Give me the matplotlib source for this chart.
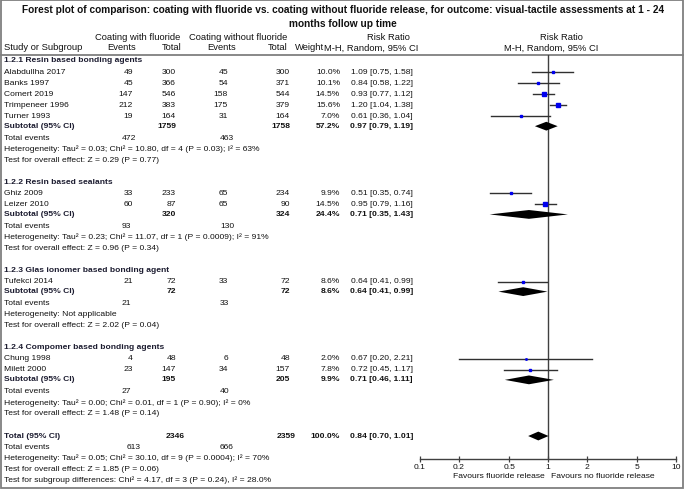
import matplotlib
matplotlib.use('Agg')
import matplotlib.pyplot as plt
from matplotlib import font_manager
from matplotlib.patches import Rectangle

# ---------------- data ----------------
title_lines = ["Forest plot of comparison: coating with fluoride vs. coating without fluoride release, for outcome: visual-tactile assessments at 1 - 24",
               "months follow up time"]

group_names = ["1.2.1 Resin based bonding agents", "1.2.2 Resin based sealants",
               "1.2.3 Glas ionomer based bonding agent", "1.2.4 Compomer based bonding agents"]

studies = ["Alabdullha 2017", "Banks 1997", "Comert 2019", "Trimpeneer 1996", "Turner 1993",
           "Ghiz 2009", "Leizer 2010", "Tufekci 2014", "Chung 1998", "Milett 2000"]
study_group = [0, 0, 0, 0, 0, 1, 1, 2, 3, 3]
events_f = [49, 45, 147, 212, 19, 33, 60, 21, 4, 23]
total_f = [300, 366, 546, 383, 164, 233, 87, 72, 48, 147]
events_n = [45, 54, 158, 175, 31, 65, 65, 33, 6, 34]
total_n = [300, 371, 544, 379, 164, 234, 90, 72, 48, 157]
weights = [10.0, 10.1, 14.5, 15.6, 7.0, 9.9, 14.5, 8.6, 2.0, 7.8]
rr = [1.09, 0.84, 0.93, 1.20, 0.61, 0.51, 0.95, 0.64, 0.67, 0.72]
rr_lo = [0.75, 0.58, 0.77, 1.04, 0.36, 0.35, 0.79, 0.41, 0.20, 0.45]
rr_hi = [1.58, 1.22, 1.12, 1.38, 1.04, 0.74, 1.16, 0.99, 2.21, 1.17]

sub_total_f = [1759, 320, 72, 195]
sub_total_n = [1758, 324, 72, 205]
sub_weight = [57.2, 24.4, 8.6, 9.9]
sub_events_f = [472, 93, 21, 27]
sub_events_n = [463, 130, 33, 40]
sub_rr = [0.97, 0.71, 0.64, 0.71]
sub_lo = [0.79, 0.35, 0.41, 0.46]
sub_hi = [1.19, 1.43, 0.99, 1.11]
sub_het = ["Heterogeneity: Tau² = 0.03; Chi² = 10.80, df = 4 (P = 0.03); I² = 63%",
           "Heterogeneity: Tau² = 0.23; Chi² = 11.07, df = 1 (P = 0.0009); I² = 91%",
           "Heterogeneity: Not applicable",
           "Heterogeneity: Tau² = 0.00; Chi² = 0.01, df = 1 (P = 0.90); I² = 0%"]
sub_test = ["Test for overall effect: Z = 0.29 (P = 0.77)",
            "Test for overall effect: Z = 0.96 (P = 0.34)",
            "Test for overall effect: Z = 2.02 (P = 0.04)",
            "Test for overall effect: Z = 1.48 (P = 0.14)"]

all_total_f = 2346
all_total_n = 2359
all_weight = 100.0
all_events_f = 613
all_events_n = 666
all_rr = 0.84
all_lo = 0.70
all_hi = 1.01
all_het = "Heterogeneity: Tau² = 0.05; Chi² = 30.10, df = 9 (P = 0.0004); I² = 70%"
all_test = "Test for overall effect: Z = 1.85 (P = 0.06)"
subgroup_test = "Test for subgroup differences: Chi² = 4.17, df = 3 (P = 0.24), I² = 28.0%"

axis_ticks = [0.1, 0.2, 0.5, 1, 2, 5, 10]
axis_labels = ["0.1", "0.2", "0.5", "1", "2", "5", "10"]
favours_left = "Favours fluoride release"
favours_right = "Favours no fluoride release"

# ---------------- fonts ----------------
names = {f.name for f in font_manager.fontManager.ttflist}
BODY = 'Liberation Sans' if 'Liberation Sans' in names else 'DejaVu Sans'
NARROW = 'Liberation Sans Narrow' if 'Liberation Sans Narrow' in names else BODY

W, H = 685, 490
fig = plt.figure(figsize=(W / 100, H / 100), dpi=100)
ax = fig.add_axes([0, 0, 1, 1])
ax.set_xlim(0, W)
ax.set_ylim(H, 0)
ax.axis('off')
renderer = fig.canvas.get_renderer()


def fit_size(text, family, weight, target_px, base=8.0):
    t = ax.text(0, 0, text, fontsize=base, family=family, fontweight=weight)
    w = t.get_window_extent(renderer=renderer).width
    t.remove()
    return base * target_px / w


TXT = '#111111'
HEAD = '#1c1c30'
title_fs = fit_size(title_lines[0], BODY, 'bold', 646)
body_fs = fit_size(sub_het[0], BODY, 'normal', 254)
hdr_fs = fit_size("Coating with fluoride", NARROW, 'normal', 86)
hdr_fs = min(hdr_fs, body_fs * 1.25)


def txt(x, y, s, ha='left', bold=False, fs=None, fam=None, color=TXT):
    ax.text(x, y, s, ha=ha, va='center', fontsize=fs or body_fs,
            family=fam or BODY, fontweight='bold' if bold else 'normal', color=color)


# title
txt(343, 10, title_lines[0], ha='center', bold=True, fs=title_fs)
txt(343, 24, title_lines[1], ha='center', bold=True, fs=title_fs)

# headers
for x, s in [(138, "Coating with fluoride"), (238, "Coating without fluoride"),
             (388, "Risk Ratio"), (561, "Risk Ratio")]:
    txt(x, 37, s, ha='center', fs=hdr_fs, fam=NARROW)
txt(4, 48, "Study or Subgroup", fs=hdr_fs, fam=NARROW)
for x, s in [(122, "Events"), (172, "Total"), (222, "Events"), (278, "Total"),
             (310, "Weight"), (371, "M-H, Random, 95% CI"), (551, "M-H, Random, 95% CI")]:
    txt(x, 48, s, ha='center', fs=hdr_fs, fam=NARROW)

# frame
GRAY = '#7f7f7f'
ax.add_patch(Rectangle((1, 0.5), 682, 487, fill=False, ec=GRAY, lw=1.3))
ax.plot([1, 683], [55, 55], color=GRAY, lw=1.3)

# column positions (pixels)
X_NAME, X_EVF, X_TOTF, X_EVN, X_TOTN, X_W, X_RR = 4, 133, 176, 228, 290, 340, 413
X_TEF, X_TEN = 122, 220
Y0, DY = 61, 11.03

# forest axes (log scale) placed over the plot column
ax_left, ax_right, ax_top, ax_bot = 420, 676, 55, 459
fax = fig.add_axes([ax_left / W, (H - ax_bot) / H, (ax_right - ax_left) / W, (ax_bot - ax_top) / H])
fax.set_xscale('log')
fax.set_xlim(axis_ticks[0], axis_ticks[-1])
fax.set_ylim(ax_bot, ax_top)
fax.patch.set_alpha(0)
for s in ['top', 'left', 'right']:
    fax.spines[s].set_visible(False)
fax.spines['bottom'].set_color('#404040')
fax.spines['bottom'].set_linewidth(1.0)
fax.set_yticks([])
fax.set_xticks(axis_ticks)
fax.set_xticklabels(axis_labels)
fax.xaxis.set_minor_locator(matplotlib.ticker.NullLocator())
fax.tick_params(axis='x', direction='inout', length=5, width=0.9, color='#404040',
                labelsize=body_fs, pad=1, labelcolor=TXT)
for lab in fax.get_xticklabels():
    lab.set_family(BODY)
fax.axvline(1, color='#404040', lw=1.0, zorder=1)


def diamond(y, est, lo, hi, h=4.4):
    fax.fill([lo, est, hi, est], [y, y - h, y, y + h], color='black', lw=0, zorder=3)


row = 0
for g, gname in enumerate(group_names):
    y = Y0 + DY * row
    txt(X_NAME, y, gname, bold=True, color=HEAD)
    row += 1
    for i, sname in enumerate(studies):
        if study_group[i] != g:
            continue
        y = Y0 + DY * row
        txt(X_NAME, y, sname)
        txt(X_EVF, y, str(events_f[i]), ha='right')
        txt(X_TOTF, y, str(total_f[i]), ha='right')
        txt(X_EVN, y, str(events_n[i]), ha='right')
        txt(X_TOTN, y, str(total_n[i]), ha='right')
        txt(X_W, y, f"{weights[i]:.1f}%", ha='right')
        txt(X_RR, y, f"{rr[i]:.2f} [{rr_lo[i]:.2f}, {rr_hi[i]:.2f}]", ha='right')
        fax.plot([rr_lo[i], rr_hi[i]], [y, y], color='#303030', lw=1.0, zorder=2)
        fax.plot([rr[i]], [y], marker='s', color='#0000ee', mec='#0000ee', ls='none',
                 markersize=(1.0 + 0.17 * weights[i]) * 0.72, zorder=4)
        row += 1
    y = Y0 + DY * row - 1
    txt(X_NAME, y, "Subtotal (95% CI)", bold=True, color=HEAD)
    txt(X_TOTF, y, str(sub_total_f[g]), ha='right', bold=True)
    txt(X_TOTN, y, str(sub_total_n[g]), ha='right', bold=True)
    txt(X_W, y, f"{sub_weight[g]:.1f}%", ha='right', bold=True)
    txt(X_RR, y, f"{sub_rr[g]:.2f} [{sub_lo[g]:.2f}, {sub_hi[g]:.2f}]", ha='right', bold=True)
    diamond(y, sub_rr[g], sub_lo[g], sub_hi[g])
    row += 1
    y = Y0 + DY * row
    txt(X_NAME, y, "Total events")
    txt(X_TEF, y, str(sub_events_f[g]))
    txt(X_TEN, y, str(sub_events_n[g]))
    row += 1
    txt(X_NAME, Y0 + DY * row, sub_het[g])
    row += 1
    txt(X_NAME, Y0 + DY * row, sub_test[g])
    row += 2

# overall
y = Y0 + DY * row
txt(X_NAME, y, "Total (95% CI)", bold=True, color=HEAD)
txt(185, y, str(all_total_f), ha='right', bold=True)
txt(296, y, str(all_total_n), ha='right', bold=True)
txt(X_W, y, f"{all_weight:.1f}%", ha='right', bold=True)
txt(X_RR, y, f"{all_rr:.2f} [{all_lo:.2f}, {all_hi:.2f}]", ha='right', bold=True)
diamond(y, all_rr, all_lo, all_hi)
row += 1
y = Y0 + DY * row
txt(X_NAME, y, "Total events")
txt(127, y, str(all_events_f))
txt(X_TEN, y, str(all_events_n))
row += 1
txt(X_NAME, Y0 + DY * row, all_het)
row += 1
txt(X_NAME, Y0 + DY * row, all_test)
row += 1
txt(X_NAME, Y0 + DY * row, subgroup_test)

# favours labels
txt(545, 476, favours_left, ha='right')
txt(551, 476, favours_right, ha='left')

fig.savefig('out.png', dpi=100)
